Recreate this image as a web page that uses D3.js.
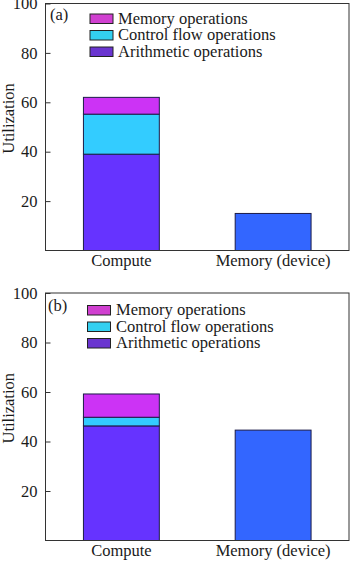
<!DOCTYPE html>
<html>
<head>
<meta charset="utf-8">
<script src="https://cdn.jsdelivr.net/npm/d3@7"></script>
<style>
  html, body { margin: 0; padding: 0; background: #fff; }
  svg { display: block; }
  text { font-family: "Liberation Serif", "Times New Roman", serif; fill: #1a1a1a; }
</style>
</head>
<body>
<svg id="chart" width="350" height="561"></svg>
<script>
// ---- data ----
const categories = ["Compute", "Memory (device)"];
const seriesNames = ["Arithmetic operations", "Control flow operations", "Memory operations"];
const legendOrder = ["Memory operations", "Control flow operations", "Arithmetic operations"];
const panelLabels = ["(a)", "(b)"];
// compute stack values [arithmetic, control flow, memory ops] per panel
const computeA = [39.0, 16.2, 6.8];
const computeB = [46.3, 3.5, 9.4];
const deviceA = 15.0;
const deviceB = 44.6;
const yTicks = [20, 40, 60, 80, 100];
const yLabel = "Utilization";

// ---- styles ----
const barColors = {
  "Arithmetic operations": "#6633ff",
  "Control flow operations": "#33ccff",
  "Memory operations": "#cc33f5"
};
const legendColors = {
  "Arithmetic operations": "#6a35d0",
  "Control flow operations": "#33d0f0",
  "Memory operations": "#d040d0"
};
const deviceColor = "#3366ff";
const strokeColor = "#1c1c48";

const svg = d3.select("#chart");
const left = 45.5, right = 349;

const panels = [
  { top: 3.5, bottom: 250.5, compute: computeA, device: deviceA, label: panelLabels[0],
    legX: 90, legY: 14, txtX: 118, lblX: 50, lblY: 20 },
  { top: 293, bottom: 540.5, compute: computeB, device: deviceB, label: panelLabels[1],
    legX: 87.5, legY: 305.5, txtX: 116, lblX: 48, lblY: 311 }
];

panels.forEach(p => {
  const g = svg.append("g");
  const x = d3.scaleBand().domain(categories).range([left, right])
    .paddingInner(0.5).paddingOuter(0.25);
  const y = d3.scaleLinear().domain([0, 100]).range([p.bottom, p.top]);

  // stacked compute bar
  let acc = 0;
  const segs = seriesNames.map((n, i) => {
    const s = { name: n, y0: acc, y1: acc + p.compute[i] };
    acc += p.compute[i];
    return s;
  });
  g.selectAll("rect.seg").data(segs).join("rect")
    .attr("class", "seg")
    .attr("x", x("Compute"))
    .attr("width", x.bandwidth())
    .attr("y", d => y(d.y1))
    .attr("height", d => y(d.y0) - y(d.y1))
    .attr("fill", d => barColors[d.name])
    .attr("stroke", strokeColor)
    .attr("stroke-width", 1);

  // device bar
  g.append("rect")
    .attr("x", x("Memory (device)"))
    .attr("width", x.bandwidth())
    .attr("y", y(p.device))
    .attr("height", y(0) - y(p.device))
    .attr("fill", deviceColor)
    .attr("stroke", strokeColor)
    .attr("stroke-width", 1);

  // frame
  g.append("rect")
    .attr("x", left).attr("y", p.top)
    .attr("width", right - left).attr("height", p.bottom - p.top)
    .attr("fill", "none").attr("stroke", "#333").attr("stroke-width", 1);

  // y axis
  const ya = d3.axisLeft(y).tickValues(yTicks).tickSizeInner(-5).tickSizeOuter(0).tickPadding(8);
  const yg = g.append("g").attr("transform", `translate(${left},0)`).call(ya);
  yg.select(".domain").remove();
  yg.selectAll("line").attr("stroke", "#333");
  yg.selectAll("text").style("font-size", "16.5px").attr("fill", "#1a1a1a")
    .style("font-family", '"Liberation Serif", serif');

  // x axis
  const xa = d3.axisBottom(x).tickSize(0).tickPadding(4);
  const xg = g.append("g").attr("transform", `translate(0,${p.bottom})`).call(xa);
  xg.select(".domain").remove();
  xg.selectAll("text").style("font-size", "16.5px").attr("fill", "#1a1a1a")
    .style("font-family", '"Liberation Serif", serif');

  // y label
  const cy = (p.top + p.bottom) / 2 - 8.5;
  g.append("text")
    .attr("transform", `translate(14,${cy}) rotate(-90)`)
    .attr("text-anchor", "middle")
    .style("font-size", "16.5px")
    .text(yLabel);

  // panel label
  g.append("text").attr("x", p.lblX).attr("y", p.lblY)
    .style("font-size", "16.5px").text(p.label);

  // legend
  legendOrder.forEach((n, i) => {
    const yy = p.legY + i * 16.5;
    g.append("rect").attr("x", p.legX).attr("y", yy)
      .attr("width", 23).attr("height", 9.5)
      .attr("fill", legendColors[n]).attr("stroke", "#222").attr("stroke-width", 1);
    g.append("text").attr("x", p.txtX).attr("y", yy + 9.5)
      .style("font-size", "16.5px").text(n);
  });
});
</script>
</body>
</html>
